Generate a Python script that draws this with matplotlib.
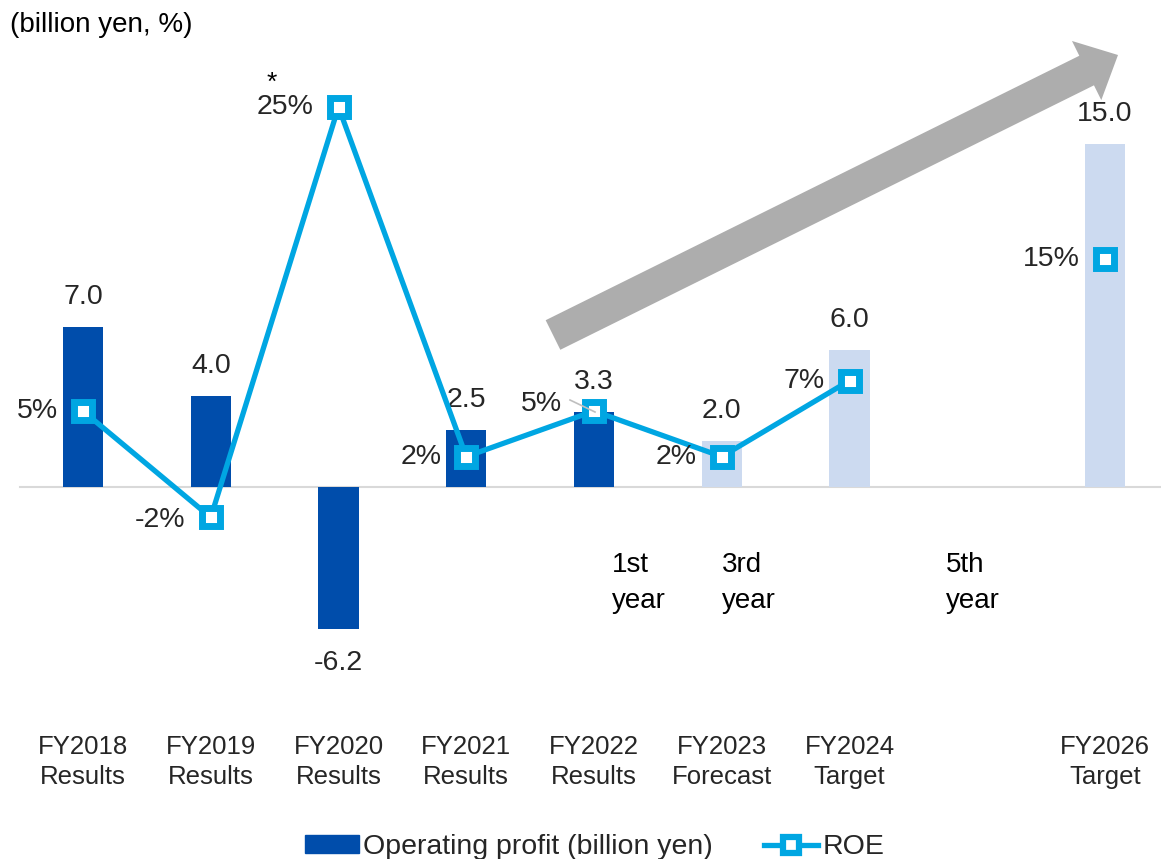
import numpy as np
import matplotlib
matplotlib.use("Agg")
import matplotlib.pyplot as plt
from matplotlib.patches import Polygon
from matplotlib.lines import Line2D
from matplotlib.transforms import blended_transform_factory

plt.rcParams['font.family'] = ['Liberation Sans', 'DejaVu Sans']

# ---- data ----
categories = ["FY2018\nResults", "FY2019\nResults", "FY2020\nResults", "FY2021\nResults",
              "FY2022\nResults", "FY2023\nForecast", "FY2024\nTarget", "", "FY2026\nTarget"]
operating_profit = [7.0, 4.0, -6.2, 2.5, 3.3, 2.0, 6.0, np.nan, 15.0]
profit_labels = ["7.0", "4.0", "-6.2", "2.5", "3.3", "2.0", "6.0", "", "15.0"]
is_plan = [False, False, False, False, False, True, True, False, True]
roe = [5, -2, 25, 2, 5, 2, 7, np.nan, 15]
roe_labels = ["5%", "-2%", "25%", "2%", "5%", "2%", "7%", "", "15%"]
year_notes = ["1st\nyear", "3rd\nyear", "5th\nyear"]
year_note_x = [4.141, 5.002, 6.755]

DARK = "#004DAB"
LIGHT = "#CCDAF0"
LINE = "#00A6E2"
TXT = "#262626"

W, H = 1161, 859
fig = plt.figure(figsize=(W / 100, H / 100), dpi=100)
ax = fig.add_axes([0, 0, 1, 1])
ax2 = ax.twinx()

x = np.arange(len(categories))
colors = [LIGHT if p else DARK for p in is_plan]
ax.bar(x, operating_profit, width=0.315, color=colors, zorder=2)

# axis scaling (zero at pixel 487)
px_per_unit = 160 / 7.0
ax.set_ylim(-(H - 487) / px_per_unit, 487 / px_per_unit)
px_per_pct = 15.2
ax2.set_ylim(-(H - 487) / px_per_pct, 487 / px_per_pct)
ax.set_xlim(-83 / 127.75, (W - 83) / 127.75)

ax.axhline(0, xmin=20 / W, xmax=1160 / W, color="#D9D9D9", lw=1.5, zorder=1)

ax2.plot(x, roe, color=LINE, lw=3.8, marker="s", ms=13.5, mfc="white", mec=LINE,
         mew=5, solid_joinstyle="round", zorder=5)

for a in (ax, ax2):
    a.axis("off")

FS = 20.5
# bar labels
for xi, v, lab in zip(x, operating_profit, profit_labels):
    if not lab:
        continue
    off = 30 if v >= 0 else -34
    ax.annotate(lab, (xi, v), xytext=(0, off), textcoords="offset pixels",
                ha="center", va="center", fontsize=FS, color=TXT, zorder=6)

# ROE labels
for i, (xi, v, lab) in enumerate(zip(x, roe, roe_labels)):
    if not lab:
        continue
    dx, dy = -25, 0
    if i == 1:
        dy = -3
    if i == 4:
        dx, dy = -32, 7
    ax2.annotate(lab, (xi, v), xytext=(dx, dy), textcoords="offset pixels",
                 ha="right", va="center", fontsize=FS, color=TXT, zorder=6)

# category labels
tr = blended_transform_factory(ax.transData, fig.transFigure)
for xi, c in zip(x, categories):
    if c:
        ax.text(xi, 1 - 762 / H, c, transform=tr, ha="center", va="center",
                fontsize=18.5, color=TXT, linespacing=1.32)

# year notes
for xn, t in zip(year_note_x, year_notes):
    ax.text(xn, 1 - 583 / H, t, transform=tr, ha="left", va="center",
            fontsize=20, color="black", linespacing=1.55, multialignment="left")

# unit label
fig.text(10 / W, 1 - 25 / H, "(billion yen, %)", ha="left", va="center",
         fontsize=20, color="black")
# asterisk
fig.text(272 / W, 1 - 83 / H, "*", ha="center", va="center", fontsize=19, color="black")

# leader line for 3.3
fig.add_artist(Line2D([570 / W, 595 / W], [1 - 400 / H, 1 - 412 / H],
                      color="#BFBFBF", lw=1.2, transform=fig.transFigure))

# growth arrow (figure pixel coordinates)
T = np.array([553.0, 335.0]); P = np.array([1118.0, 55.0])
u = (P - T) / np.linalg.norm(P - T)
n = np.array([-u[1], u[0]])
hw, hh, hl = 16.5, 33.0, 35.0
B = P - hl * u
pts = [T + hw * n, T - hw * n, B - hw * n, B - hh * n, P, B + hh * n, B + hw * n]
pts = [(px / W, 1 - py / H) for px, py in pts]
fig.add_artist(Polygon(pts, closed=True, facecolor="#ADADAD", edgecolor="none",
                       transform=fig.transFigure, zorder=3))

# legend
handles = [plt.Rectangle((0, 0), 1, 1, color=DARK),
           Line2D([], [], color=LINE, lw=3.8, marker="s", ms=11, mfc="white",
                  mec=LINE, mew=4.5)]
fig.legend(handles, ["Operating profit (billion yen)", "ROE"], loc="center",
           bbox_to_anchor=(0.512, 1 - 847 / H), ncol=2, frameon=False, fontsize=20.5,
           handlelength=1.9, handleheight=0.55, handletextpad=0.15, columnspacing=1.8,
           labelcolor=TXT)

fig.savefig("out.png", dpi=100)
